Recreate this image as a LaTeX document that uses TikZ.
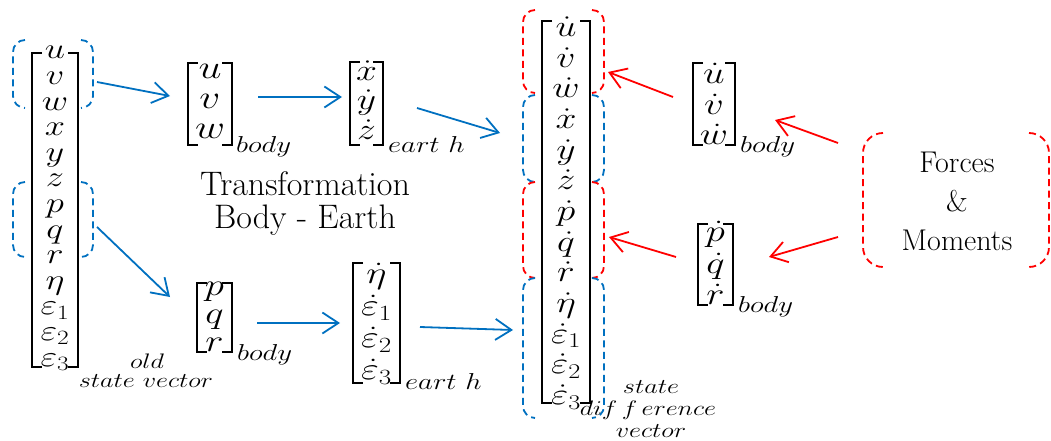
\RequirePackage{fix-cm}
\documentclass[tikz,border=0pt]{standalone}
\usepackage{amsmath}
\usepackage{graphicx}
\usetikzlibrary{matrix,arrows.meta}
\definecolor{wblue}{RGB}{0,112,192}
\definecolor{wred}{RGB}{255,0,0}
\newcommand\hs[1]{\scalebox{1.25}[1]{$#1$}}
\newcommand\sqbrack[1]{%
  \draw[brk] ([xshift=10pt]#1.north west) -- (#1.north west) -- (#1.south west) -- ([xshift=10pt]#1.south west);
  \draw[brk] ([xshift=-10pt]#1.north east) -- (#1.north east) -- (#1.south east) -- ([xshift=-10pt]#1.south east);}
\newcommand\sidepair[3]{%
  \draw[dsh,#2,rounded corners=#3] ([xshift=#3]#1.north west) -- (#1.north west) -- (#1.south west) -- ([xshift=#3]#1.south west);
  \draw[dsh,#2,rounded corners=#3] ([xshift=-#3]#1.north east) -- (#1.north east) -- (#1.south east) -- ([xshift=-#3]#1.south east);}
\begin{document}
\begin{tikzpicture}[x=1pt,y=-1pt,
  brk/.style={line width=2.8pt, line join=miter},
  dsh/.style={line width=1.8pt, dash pattern=on 7pt off 4.5pt},
  frame/.style 2 args={inner sep=0pt, outer sep=0pt, minimum width=#1, minimum height=#2},
  vecm/.style n args={3}{matrix of nodes, inner sep=0pt, outer sep=0pt, anchor=north,
    nodes={inner sep=0pt, text height=#1, text depth=#2, font=#3}},
  sub/.style={inner sep=0pt, anchor=base west, font=\fontsize{23}{23}\selectfont},
  lbl/.style={inner sep=0pt, anchor=base, font=\fontsize{21}{21}\selectfont},
  barrow/.style={wblue, line width=1.8pt, -{Straight Barb[length=16pt,width=21pt]}},
  rarrow/.style={wred, line width=1.8pt, -{Straight Barb[length=16pt,width=21pt]}},
  bigtxt/.style={inner sep=0pt, align=center}]
\useasboundingbox (0,0) rectangle (1051,441);

% dashed bracket-pair frames
\node[frame={80pt}{68pt}] (ob1) at (53,74) {};
\node[frame={80pt}{75pt}] (ob2) at (53,219.5) {};
\node[frame={81pt}{83pt}] (sb1) at (563.5,51.5) {};
\node[frame={81pt}{87pt}] (sb2) at (563.5,138.5) {};
\node[frame={81pt}{96pt}] (sb3) at (563.5,230) {};
\node[frame={81pt}{140pt}] (sb4) at (563.5,348) {};
\node[frame={186pt}{134pt}] (fm) at (956,200) {};
\sidepair{ob1}{wblue}{12pt}
\sidepair{ob2}{wblue}{12pt}
\sidepair{sb1}{wred}{12pt}
\sidepair{sb2}{wblue}{12pt}
\sidepair{sb3}{wred}{12pt}
\sidepair{sb4}{wblue}{12pt}
\sidepair{fm}{wred}{20pt}

% bracket frames
\node[frame={46pt}{314pt}] (old) at (55,210) {};
\node[frame={44pt}{82pt}] (uvw) at (210,104) {};
\node[frame={33pt}{83pt}] (xyz) at (366.5,103.5) {};
\node[frame={35pt}{69pt}] (pqr) at (214.5,317.5) {};
\node[frame={47pt}{120pt}] (eta) at (376.5,323) {};
\node[frame={48pt}{382pt}] (sd) at (566,212) {};
\node[frame={42pt}{82pt}] (duvw) at (714,104) {};
\node[frame={35pt}{81pt}] (dpqr) at (715.5,264.5) {};
\sqbrack{old}\sqbrack{uvw}\sqbrack{xyz}\sqbrack{pqr}
\sqbrack{eta}\sqbrack{sd}\sqbrack{duvw}\sqbrack{dpqr}

% entries
\matrix (oldv) [vecm={16.6pt}{9pt}{\fontsize{29}{29}\selectfont}] at (55,42.2)
  {\hs{u}\\ \hs{v}\\ \hs{w}\\ \hs{x}\\ \hs{y}\\ \hs{z}\\ \hs{p}\\ \hs{q}\\ \hs{r}\\ \hs{\eta}\\ \hs{\varepsilon_1}\\ \hs{\varepsilon_2}\\ \hs{\varepsilon_3}\\};
\matrix (uvwv) [vecm={19.5pt}{10.5pt}{\fontsize{33}{33}\selectfont}] at (210,59)
  {\hs{u}\\ \hs{v}\\ \hs{w}\\};
\matrix (xyzv) [vecm={19.2pt}{10.3pt}{\fontsize{30}{30}\selectfont}] at (366.5,61.25)
  {\hs{\dot{x}}\\ \hs{\dot{y}}\\ \hs{\dot{z}}\\};
\matrix (pqrv) [vecm={18.2pt}{9.8pt}{\fontsize{31}{31}\selectfont}] at (214.5,277)
  {\hs{p}\\ \hs{q}\\ \hs{r}\\};
\matrix (etav) [vecm={20.8pt}{11.2pt}{\fontsize{31}{31}\selectfont}] at (376.5,263)
  {\hs{\dot{\eta}}\\ \hs{\dot{\varepsilon}_1}\\ \hs{\dot{\varepsilon}_2}\\ \hs{\dot{\varepsilon}_3}\\};
\matrix (sdv) [vecm={19.9pt}{10.77pt}{\fontsize{30}{30}\selectfont}] at (566,16.67)
  {\hs{\dot{u}}\\ \hs{\dot{v}}\\ \hs{\dot{w}}\\ \hs{\dot{x}}\\ \hs{\dot{y}}\\ \hs{\dot{z}}\\ \hs{\dot{p}}\\ \hs{\dot{q}}\\ \hs{\dot{r}}\\ \hs{\dot{\eta}}\\ \hs{\dot{\varepsilon}_1}\\ \hs{\dot{\varepsilon}_2}\\ \hs{\dot{\varepsilon}_3}\\};
\matrix (duvwv) [vecm={19.8pt}{10.7pt}{\fontsize{31}{31}\selectfont}] at (714,63.75)
  {\hs{\dot{u}}\\ \hs{\dot{v}}\\ \hs{\dot{w}}\\};
\matrix (dpqrv) [vecm={20.5pt}{11pt}{\fontsize{31}{31}\selectfont}] at (715.5,221.25)
  {\hs{\dot{p}}\\ \hs{\dot{q}}\\ \hs{\dot{r}}\\};

% subscripts
\node[sub] (s1) at (236,152) {\hs{body}};
\node[sub] (s2) at (388,152) {\hs{eart\ h}};
\node[sub] (s3) at (237,360) {\hs{body}};
\node[sub] (s4) at (405,389) {\hs{eart\ h}};
\node[sub] (s5) at (740,152) {\hs{body}};
\node[sub] (s6) at (738,312) {\hs{body}};

% labels
\node[lbl] (l1) at (147,368) {\hs{old}};
\node[lbl] (l2) at (146,387) {\hs{state\ vector}};
\node[lbl] (l3) at (651,393) {\hs{state}};
\node[lbl] (l4) at (648,415) {\hs{dif\,f\,erence}};
\node[lbl] (l5) at (651,437) {\hs{vector}};

\node[bigtxt, font=\fontsize{34}{33}\selectfont] (tr) at (305,203.5) {Transformation\\Body - Earth};
\node[bigtxt, font=\fontsize{30}{39}\selectfont] (fmt) at (957,201) {Forces\\\&\\Moments};

% arrows
\draw[barrow] ([shift={(4,8)}]ob1.east) -- ([shift={(-18,-8)}]uvw.west);
\draw[barrow] ([shift={(4,7.5)}]ob2.east) -- ([shift={(-27,-20.5)}]pqr.west);
\draw[barrow] ([shift={(26,-7)}]uvw.east) -- ([shift={(-8,-6.5)}]xyz.west);
\draw[barrow] ([shift={(34,4.5)}]xyz.east) -- ([shift={(-23,-5.5)}]sb2.west);
\draw[barrow] ([shift={(25,5.5)}]pqr.east) -- ([shift={(-13,0)}]eta.west);
\draw[barrow] ([shift={(20,4)}]eta.east) -- ([shift={(-10,-18)}]sb4.west);
\draw[rarrow] ([shift={(-20,-7)}]duvw.west) -- ([shift={(4,20.5)}]sb1.east);
\draw[rarrow] ([shift={(-22,-7.5)}]dpqr.west) -- ([shift={(5,7)}]sb3.east);
\draw[rarrow] ([shift={(-25,-57)}]fm.west) -- ([shift={(40,16)}]duvw.east);
\draw[rarrow] ([shift={(-25,37)}]fm.west) -- ([shift={(36,-7.5)}]dpqr.east);
\end{tikzpicture}
\end{document}
